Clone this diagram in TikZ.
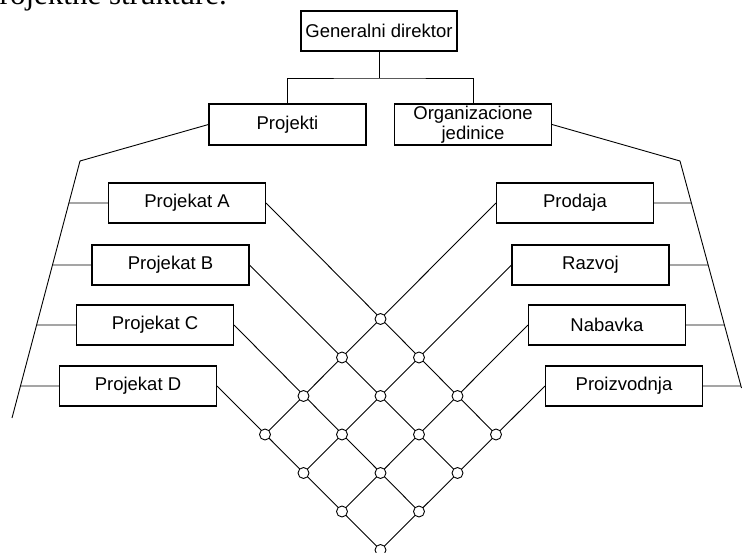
\documentclass[tikz,border=0pt]{standalone}
\usepackage{fontspec}
\setmainfont{Liberation Sans}
\newfontfamily\captionserif{Liberation Serif}
\usetikzlibrary{calc}

\begin{document}
\begin{tikzpicture}[x=1pt,y=-1pt,
  box/.style={draw, line width=1.1pt, minimum width=157pt, minimum height=40pt,
    inner sep=0pt, align=center, font=\fontsize{18.5}{19.5}\selectfont},
  link/.style={line width=0.9pt},
  knot/.style={circle, draw, fill=white, line width=0.9pt, minimum size=11pt, inner sep=0pt}]
\useasboundingbox (0,0) rectangle (742,553);
\begin{scope}
\clip (0,0) rectangle (742,553);

% tail of the caption line above the figure
\node[anchor=base west, inner sep=0pt, font=\captionserif\fontsize{31}{31}\selectfont]
  (cap) at (-16,4.5) {projektne strukture.};

% top of the hierarchy
\node[box, minimum width=156pt] (gd) at (379,31) {Generalni direktor};
\node[box, minimum height=41pt] (pr) at (287.5,124.5) {Projekti};
\node[box, minimum height=41pt] (oj) at (473,124.5) {Organizacione\\jedinice};
\coordinate (bus) at (379,78);
\draw[link] (gd.south) -- (bus);
\draw[link] (pr.north) |- (bus) -| (oj.north);

% projects (left) and functional units (right)
\node[box] (pa) at (187,203) {Projekat A};
\node[box] (pb) at (170.5,265) {Projekat B};
\node[box] (pc) at (155,325) {Projekat C};
\node[box] (pd) at (138,386) {Projekat D};
\node[box] (so) at (575,203) {Prodaja};
\node[box] (ra) at (590.5,265) {Razvoj};
\node[box] (na) at (607,325) {Nabavka};
\node[box] (pz) at (624,386) {Proizvodnja};

% slanted brackets
\coordinate (lk) at (80,161);
\coordinate (lb) at (12,418);
\coordinate (rk) at (680,161);
\coordinate (rb) at (741.5,388);
\draw[link] (pr.west) -- (lk) -- (lb);
\draw[link] (oj.east) -- (rk) -- (rb);

\foreach \n in {pa,pb,pc,pd} {
  \coordinate (\n q) at ($(\n.west)+(-10,0)$);
  \draw[link] (\n.west) -- (intersection of lk--lb and \n.west--\n q);
}
\foreach \n in {so,ra,na,pz} {
  \coordinate (\n q) at ($(\n.east)+(10,0)$);
  \draw[link] (\n.east) -- (intersection of rk--rb and \n.east--\n q);
}

% matrix lattice
\coordinate (T) at (380.5,319);
\foreach \k in {0,...,3} {
  \foreach \m in {0,...,3} {
    \coordinate (g\k\m) at ($(T)+\m*(38.5,38.5)+\k*(-38.5,38.5)$);
  }
}
\draw[link] (pa.east) -- (g03);
\draw[link] (pb.east) -- (g13);
\draw[link] (pc.east) -- (g23);
\draw[link] (pd.east) -- (g33);
\draw[link] (so.west) -- (g30);
\draw[link] (ra.west) -- (g31);
\draw[link] (na.west) -- (g32);
\draw[link] (pz.west) -- (g33);
\foreach \k in {0,...,3} {
  \foreach \m in {0,...,3} {
    \node[knot] (c\k\m) at (g\k\m) {};
  }
}
\end{scope}
\end{tikzpicture}
\end{document}
